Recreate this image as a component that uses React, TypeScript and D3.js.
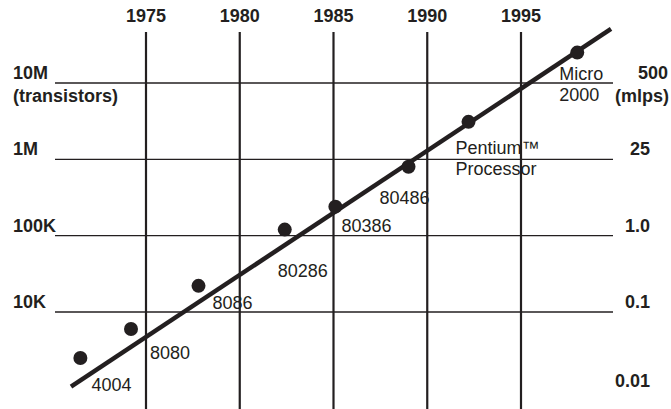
import React from 'react';
import * as d3 from 'd3';

// processors: name, year (as placed on the chart), transistor count
const chips = ['4004', '8080', '8086', '80286', '80386', '80486', 'Pentium™|Processor', 'Micro|2000'];
const chipYears = [1971.5, 1974.2, 1977.8, 1982.4, 1985.1, 1989.0, 1992.2, 1998.0];
const chipTransistors = [2500, 6000, 22000, 120000, 240000, 800000, 3100000, 25000000];
// label offset from its dot
const labelDx = [11, 19, 14, -7, 6, -29, -13, -18];
const labelDy = [33, 30, 23, 47, 25, 37, 32, 27];

// trend line ends
const trendYears = [1971.0, 1999.8];
const trendTransistors = [1050, 51000000];

const yearTicks = [1975, 1980, 1985, 1990, 1995];
const transistorTicks = [10000000, 1000000, 100000, 10000];
const transistorLabels = ['10M', '1M', '100K', '10K'];
const mipsTicks = [10000000, 1000000, 100000, 10000, 1000];
const mipsLabels = ['500', '25', '1.0', '0.1', '0.01'];

const W = 671;
const H = 409;
const ink = '#231f20';
const font = '"Liberation Sans", Arial, Helvetica, sans-serif';

export default function App() {
  const x = d3.scaleLinear().domain([1975, 1995]).range([146, 521]);
  const y = d3.scaleLog().domain([10000, 10000000]).range([312, 83]);

  const trend = d3
    .line<number>()
    .x((d, i) => x(trendYears[i]))
    .y((d) => y(d));

  return (
    <svg
      width={W}
      height={H}
      style={{ position: 'absolute', left: 0, top: 0, background: '#fff' }}
      fontFamily={font}
    >
      {/* horizontal grid */}
      {transistorTicks.map((t) => (
        <line key={t} x1={55} x2={613} y1={y(t)} y2={y(t)} stroke={ink} strokeWidth={1.3} />
      ))}
      {/* vertical year lines */}
      {yearTicks.map((yr) => (
        <g key={yr}>
          <line x1={x(yr)} x2={x(yr)} y1={32} y2={H} stroke={ink} strokeWidth={2.2} />
          <text x={x(yr)} y={22} textAnchor="middle" fontSize={18} fontWeight="bold" fill={ink}>
            {yr}
          </text>
        </g>
      ))}

      {/* left axis labels */}
      {transistorLabels.map((l, i) => (
        <text key={l} x={13} y={y(transistorTicks[i]) - 4} fontSize={18} fontWeight="bold" fill={ink}>
          {l}
        </text>
      ))}
      <text x={13} y={y(transistorTicks[0]) + 19} fontSize={18} fontWeight="bold" fill={ink}>
        (transistors)
      </text>

      {/* right axis labels */}
      {mipsLabels.map((l, i) => (
        <text
          key={l}
          x={i === 0 ? 668 : 650}
          y={y(mipsTicks[i]) - (i === 4 ? 1 : 4)}
          textAnchor="end"
          fontSize={18}
          fontWeight="bold"
          fill={ink}
        >
          {l}
        </text>
      ))}
      <text x={669} y={y(mipsTicks[0]) + 19} textAnchor="end" fontSize={18} fontWeight="bold" fill={ink}>
        (mlps)
      </text>

      {/* trend */}
      <path d={trend(trendTransistors) ?? ''} fill="none" stroke={ink} strokeWidth={4.5} />

      {/* processors */}
      {chips.map((c, i) => {
        const cx = x(chipYears[i]);
        const cy = y(chipTransistors[i]);
        const lines = c.split('|');
        return (
          <g key={c}>
            <circle cx={cx} cy={cy} r={7} fill={ink} />
            {lines.map((s, j) => (
              <text
                key={s}
                x={cx + labelDx[i]}
                y={cy + labelDy[i] + j * 21}
                fontSize={18}
                fill={ink}
              >
                {s}
              </text>
            ))}
          </g>
        );
      })}
    </svg>
  );
}
